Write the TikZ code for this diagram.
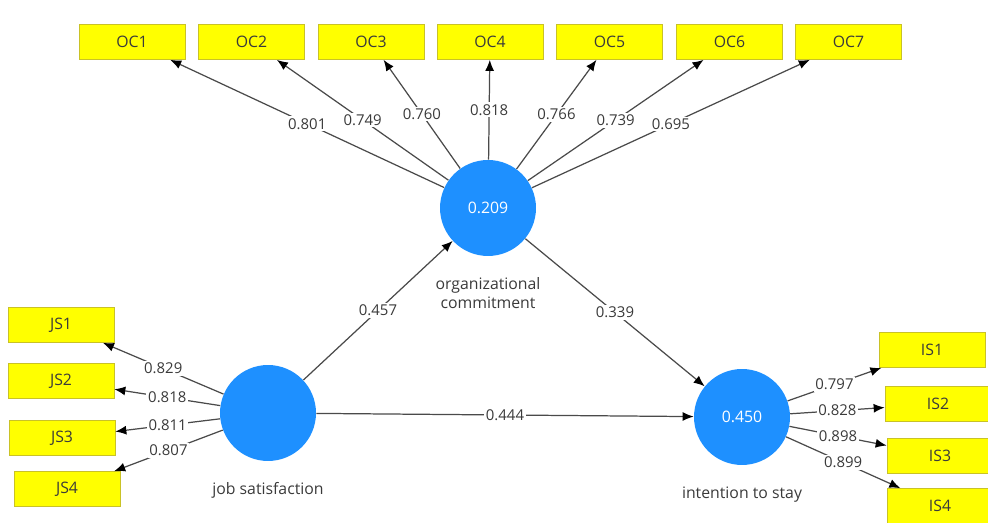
\documentclass[tikz,border=0pt]{standalone}
\usepackage{fontspec}
\setmainfont{Open Sans}
\usetikzlibrary{arrows.meta,positioning}
\definecolor{PLSBlue}{HTML}{1E90FF}
\definecolor{PLSYellow}{HTML}{FFFF00}
\definecolor{PLSEdge}{HTML}{C9C227}
\definecolor{PLSLine}{HTML}{4A4A4A}
\definecolor{PLSText}{HTML}{3A3A3A}

\begin{document}
\begin{tikzpicture}[x=0.02cm,y=-0.02cm,
    itembox/.style={draw=PLSEdge,thin,fill=PLSYellow,minimum width=2.12cm,
      minimum height=0.7cm,inner sep=0pt,text=PLSText,font=\fontsize{9}{10}\selectfont},
    construct/.style={circle,fill=PLSBlue,minimum size=1.92cm,inner sep=0pt,
      text=white,font=\fontsize{9}{10}\selectfont},
    caption/.style={align=center,text=PLSText,inner sep=1pt,
      font=\fontsize{9}{11}\selectfont},
    weight/.style={fill=white,inner sep=1pt,text=PLSText,font=\fontsize{8.5}{10}\selectfont},
    arrow/.style={-{Latex[length=2.2mm,width=1.8mm,color=black]},line width=0.7pt,color=PLSLine},
    node distance=0.38cm
  ]
    \useasboundingbox (0,0) rectangle (988,523);

    % latent constructs
    \node[construct] (oc) at (488,208) {0.209};
    \node[construct] (js) at (268,413) {};
    \node[construct] (is) at (742,417) {0.450};
    \node[caption,below=of oc] (ocname) {organizational\\commitment};
    \node[caption,below=of js] (jsname) {job satisfaction};
    \node[caption,below=of is] (isname) {intention to stay};

    % indicators
    \node[itembox] (oc1) at (132,42) {OC1};
    \node[itembox] (oc2) at (251.5,42) {OC2};
    \node[itembox] (oc3) at (371,42) {OC3};
    \node[itembox] (oc4) at (490,42) {OC4};
    \node[itembox] (oc5) at (609.5,42) {OC5};
    \node[itembox] (oc6) at (729.5,42) {OC6};
    \node[itembox] (oc7) at (848.5,42) {OC7};

    \node[itembox] (js1) at (61,325) {JS1};
    \node[itembox] (js2) at (61,381) {JS2};
    \node[itembox] (js3) at (62,438) {JS3};
    \node[itembox] (js4) at (67,489) {JS4};

    \node[itembox] (is1) at (932,350) {IS1};
    \node[itembox] (is2) at (938,404) {IS2};
    \node[itembox] (is3) at (940,456) {IS3};
    \node[itembox] (is4) at (940,506) {IS4};

    % loadings
    \draw[arrow] (oc) -- node[weight]{0.801} (oc1);
    \draw[arrow] (oc) -- node[weight]{0.749} (oc2);
    \draw[arrow] (oc) -- node[weight]{0.760} (oc3);
    \draw[arrow] (oc) -- node[weight]{0.818} (oc4);
    \draw[arrow] (oc) -- node[weight]{0.766} (oc5);
    \draw[arrow] (oc) -- node[weight]{0.739} (oc6);
    \draw[arrow] (oc) -- node[weight]{0.695} (oc7);

    \draw[arrow] (js) -- node[weight]{0.829} (js1);
    \draw[arrow] (js) -- node[weight]{0.818} (js2);
    \draw[arrow] (js) -- node[weight]{0.811} (js3);
    \draw[arrow] (js) -- node[weight]{0.807} (js4);

    \draw[arrow] (is) -- node[weight]{0.797} (is1);
    \draw[arrow] (is) -- node[weight]{0.828} (is2);
    \draw[arrow] (is) -- node[weight]{0.898} (is3);
    \draw[arrow] (is) -- node[weight]{0.899} (is4);

    % paths
    \draw[arrow] (js) -- node[weight]{0.457} (oc);
    \draw[arrow] (js) -- node[weight]{0.444} (is);
    \draw[arrow] (oc) -- node[weight]{0.339} (is);
  \end{tikzpicture}
\end{document}
